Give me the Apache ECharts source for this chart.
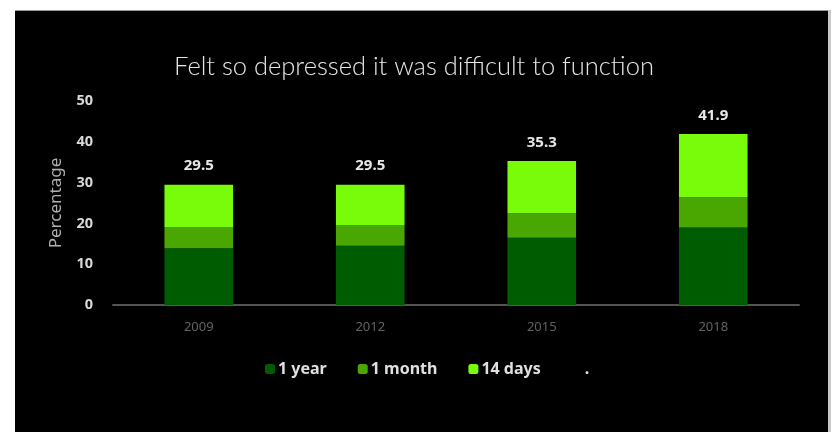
<!DOCTYPE html>
<html>
<head>
<meta charset="utf-8">
<script src="https://cdn.jsdelivr.net/npm/echarts@6/dist/echarts.min.js"></script>
<style>
html,body{margin:0;padding:0;background:#fff;}
#c{width:838px;height:432px;}
</style>
</head>
<body>
<div id="c"></div>
<script>
const categories = ['2009', '2012', '2015', '2018'];
const oneYear = [13.9, 14.5, 16.5, 19.0];
const oneMonth = [5.2, 5.1, 6.0, 7.4];
const fourteenDays = [10.4, 9.9, 12.8, 15.5];
const totals = [29.5, 29.5, 35.3, 41.9];
const seriesNames = ['1 year', '1 month', '14 days', '.'];
const colors = ['#005c00', '#4aa600', '#78fc0a'];

const chart = echarts.init(document.getElementById('c'));
chart.setOption({
  backgroundColor: '#ffffff',
  animation: false,
  graphic: [
    { type: 'rect', shape: { x: 15, y: 10, width: 813, height: 422 }, style: { fill: '#000' }, z: -10 },
    { type: 'rect', shape: { x: 15, y: 10, width: 813, height: 1 }, style: { fill: '#999' }, z: -9 },
    { type: 'rect', shape: { x: 828, y: 10, width: 3, height: 422 }, style: { fill: '#c8c8c8' }, z: -9 }
  ],
  title: {
    text: 'Felt so depressed it was difficult to function',
    left: 409, textAlign: 'center', top: 49,
    textStyle: { color: '#e6e6e6', fontFamily: 'Lato', fontWeight: 300, fontSize: 25.5 }
  },
  legend: {
    data: seriesNames.map((n, i) => i < 3 ? { name: n } : { name: n, icon: 'none' }),
    left: 260, top: 356,
    itemWidth: 10, itemHeight: 10, itemGap: 31,
    textStyle: { color: '#e0e0e0', fontFamily: 'Noto Sans', fontSize: 16, fontWeight: 'bold', padding: [0, 0, 0, -2] }
  },
  grid: { left: 113, right: 39, top: 101, bottom: 127 },
  xAxis: {
    type: 'category', data: categories,
    axisLine: { lineStyle: { color: '#555', width: 2 } },
    axisTick: { show: false },
    axisLabel: { color: '#626262', fontSize: 13, margin: 16, fontFamily: 'Noto Sans' }
  },
  yAxis: {
    type: 'value', min: 0, max: 50, interval: 10,
    name: 'Percentage', nameLocation: 'middle', nameGap: 48,
    nameTextStyle: { color: '#b0b0b0', fontSize: 17, fontFamily: 'Noto Sans' },
    axisLine: { show: false }, axisTick: { show: false },
    splitLine: { show: false },
    axisLabel: { color: '#d8d8d8', fontSize: 14.5, fontWeight: 'bold', margin: 20, fontFamily: 'Noto Sans' }
  },
  series: [
    { name: seriesNames[0], type: 'bar', stack: 't', data: oneYear, barWidth: '40%', itemStyle: { color: colors[0] } },
    { name: seriesNames[1], type: 'bar', stack: 't', data: oneMonth, itemStyle: { color: colors[1] } },
    { name: seriesNames[2], type: 'bar', stack: 't', data: fourteenDays, itemStyle: { color: colors[2] },
      label: { show: true, position: 'top', distance: 11, color: '#e8e8e8', fontSize: 15, fontWeight: 'bold', fontFamily: 'Noto Sans',
        formatter: p => totals[p.dataIndex].toFixed(1) } },
    { name: seriesNames[3], type: 'bar', stack: 't', data: [], itemStyle: { color: 'transparent' } }
  ]
});
</script>
</body>
</html>
